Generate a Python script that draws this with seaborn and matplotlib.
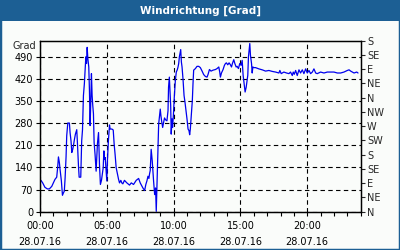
import matplotlib
matplotlib.use("Agg")
import matplotlib.pyplot as plt
from matplotlib.patches import Rectangle
import seaborn as sns
import pandas as pd

# ---- data ----
hours = [0.07, 0.2, 0.37, 0.55, 0.7, 0.88, 1.0, 1.12, 1.25, 1.32, 1.38, 1.45, 1.5, 1.6, 1.68, 1.75,
         1.82, 1.88, 1.95, 2.0, 2.08, 2.2, 2.25, 2.32, 2.38, 2.45, 2.5, 2.58, 2.65, 2.75, 2.8, 2.88,
         2.93, 3.0, 3.05, 3.12, 3.18, 3.2, 3.25, 3.32, 3.43, 3.48, 3.53, 3.58, 3.65, 3.7, 3.75, 3.8,
         3.85, 3.9, 3.95, 4.0, 4.05, 4.12, 4.2, 4.25, 4.3, 4.38, 4.45, 4.52, 4.6, 4.68, 4.73, 4.78,
         4.83, 4.88, 4.95, 5.0, 5.05, 5.12, 5.2, 5.25, 5.38, 5.48, 5.55, 5.62, 5.7, 5.8, 5.88, 5.95,
         6.05, 6.12, 6.2, 6.32, 6.5, 6.7, 6.83, 7.0, 7.2, 7.38, 7.5, 7.7, 7.83, 7.92, 8.0, 8.08,
         8.15, 8.2, 8.25, 8.32, 8.4, 8.45, 8.5, 8.58, 8.65, 8.7, 8.75, 8.8, 8.88, 8.95, 9.0, 9.05,
         9.1, 9.18, 9.25, 9.32, 9.4, 9.5, 9.58, 9.62, 9.68, 9.72, 9.78, 9.82, 9.88, 9.92, 9.98, 10.05,
         10.13, 10.2, 10.28, 10.33, 10.38, 10.43, 10.48, 10.53, 10.58, 10.63, 10.7, 10.78, 10.85, 10.93, 11.0, 11.08,
         11.15, 11.2, 11.25, 11.33, 11.4, 11.45, 11.5, 11.63, 11.75, 11.88, 12.0, 12.13, 12.25, 12.38, 12.5, 12.58,
         12.68, 12.8, 12.95, 13.13, 13.25, 13.38, 13.45, 13.5, 13.58, 13.7, 13.8, 13.88, 13.95, 14.05, 14.15, 14.25,
         14.33, 14.4, 14.5, 14.58, 14.68, 14.75, 14.85, 14.95, 15.05, 15.13, 15.2, 15.28, 15.35, 15.43, 15.5, 15.55,
         15.6, 15.65, 15.7, 15.75, 15.83, 15.88, 15.93, 16.0, 16.13, 16.38, 16.63, 16.88, 17.13, 17.38, 17.63, 17.88,
         17.95, 18.05, 18.25, 18.45, 18.63, 18.75, 18.88, 18.95, 19.03, 19.13, 19.25, 19.38, 19.5, 19.63, 19.75, 19.88,
         20.0, 20.13, 20.25, 20.38, 20.5, 20.63, 20.75, 21.0, 21.25, 21.5, 21.75, 22.0, 22.25, 22.5, 22.75, 23.0,
         23.13, 23.25, 23.5, 23.7, 23.8]
degrees = [99, 91, 77, 72, 72, 80, 91, 102, 109, 139, 173, 155, 134, 97, 52, 59,
           65, 107, 173, 240, 280, 280, 250, 224, 187, 197, 208, 229, 245, 259, 218, 144,
           109, 109, 109, 224, 258, 293, 367, 404, 489, 468, 519, 484, 457, 383, 272, 346,
           436, 367, 335, 309, 218, 181, 128, 171, 216, 250, 150, 86, 99, 123, 139, 192,
           165, 171, 128, 97, 165, 224, 274, 261, 261, 258, 213, 181, 139, 118, 102, 91,
           99, 91, 88, 99, 91, 84, 91, 86, 99, 105, 91, 75, 67, 86, 97, 112,
           105, 120, 130, 197, 160, 128, 97, 54, 75, 1, 75, 160, 277, 303, 324, 303,
           287, 266, 282, 296, 290, 287, 319, 393, 425, 388, 335, 245, 293, 266, 303, 362,
           415, 441, 449, 457, 468, 489, 500, 512, 473, 457, 420, 367, 346, 319, 293, 261,
           256, 243, 261, 309, 351, 404, 447, 452, 459, 459, 455, 444, 433, 427, 425, 434,
           449, 444, 447, 449, 452, 457, 441, 425, 438, 449, 462, 468, 470, 464, 470, 464,
           457, 468, 480, 468, 457, 459, 452, 468, 462, 478, 431, 404, 378, 393, 415, 431,
           489, 510, 531, 494, 468, 438, 457, 455, 455, 451, 448, 444, 446, 443, 441, 438,
           446, 436, 441, 438, 436, 441, 430, 441, 434, 446, 430, 448, 438, 448, 436, 451,
           438, 446, 436, 441, 451, 438, 436, 441, 438, 441, 441, 441, 438, 438, 441, 446,
           448, 444, 438, 441, 438]

x_tick_pos = [0, 5, 10, 15, 20]
x_tick_labels = ["00:00\n28.07.16", "05:00\n28.07.16", "10:00\n28.07.16",
                 "15:00\n28.07.16", "20:00\n28.07.16"]
y_ticks = [0, 70, 140, 210, 280, 350, 420, 490]
compass_ticks = [0, 45, 90, 135, 180, 225, 270, 315, 360, 405, 450, 495, 540]
compass_labels = ["N", "NE", "E", "SE", "S", "SW", "W", "NW", "N", "NE", "E", "SE", "S"]
title = "Windrichtung [Grad]"
unit = "Grad"

# ---- style ----
sns.set_style("white")
plt.rcParams["font.family"] = ["DejaVu Sans"]
FS = 7
BG = "#fafcfa"
BLUE_FRAME = "#1c5f94"

fig = plt.figure(figsize=(4, 2.5), dpi=100, facecolor=BG)
ax = fig.add_axes([40 / 400, 1 - 211.7 / 250, 320.7 / 400, 171 / 250])
ax.set_facecolor(BG)

df = pd.DataFrame({"hour": hours, "deg": degrees})
sns.lineplot(data=df, x="hour", y="deg", ax=ax, color="#0000ee", linewidth=0.9,
             estimator=None, sort=False)

ax.set_xlim(0, 24)
ax.set_ylim(0, 540)
ax.set_xlabel("")
ax.set_ylabel("")
ax.set_xticks(x_tick_pos)
ax.set_xticklabels(x_tick_labels, fontsize=FS)
for t in ax.get_xticklabels():
    t.set_linespacing(1.75)
ax.set_xticks(range(0, 25), minor=True)
ax.set_yticks(y_ticks)
ax.set_yticklabels([str(v) for v in y_ticks], fontsize=FS)
ax.grid(True, which="major", color="black", linestyle=(0, (4, 3)), linewidth=0.8)
ax.tick_params(axis="both", which="both", direction="out", length=3, width=0.8,
               color="black", pad=2, labelcolor="black")
ax.tick_params(axis="x", which="both", bottom=True, pad=4)
for s in ax.spines.values():
    s.set_color("black")
    s.set_linewidth(0.9)

ax2 = ax.twinx()
ax2.set_ylim(0, 540)
ax2.set_yticks(compass_ticks)
ax2.set_yticklabels(compass_labels, fontsize=FS)
ax2.tick_params(axis="y", direction="out", length=3, width=0.8, pad=1.5)
ax2.grid(False)
for s in ax2.spines.values():
    s.set_color("black")
    s.set_linewidth(0.9)

# unit label
fig.text(36 / 400, 1 - 46 / 250, unit, ha="right", va="center", fontsize=FS)

# title bar and frame
fig.patches.append(Rectangle((0, 1 - 20.5 / 250), 1, 20.5 / 250, transform=fig.transFigure,
                             facecolor=BLUE_FRAME, edgecolor="none", zorder=0))
fig.patches.append(Rectangle((0, 0), 1, 1, transform=fig.transFigure, fill=False,
                             edgecolor=BLUE_FRAME, linewidth=2.5, zorder=5))
fig.text(0.5, 1 - 10.5 / 250, title, ha="center", va="center", color="white",
         fontsize=7.5, fontweight="bold")

fig.savefig("out.png", dpi=100, facecolor=BG)
